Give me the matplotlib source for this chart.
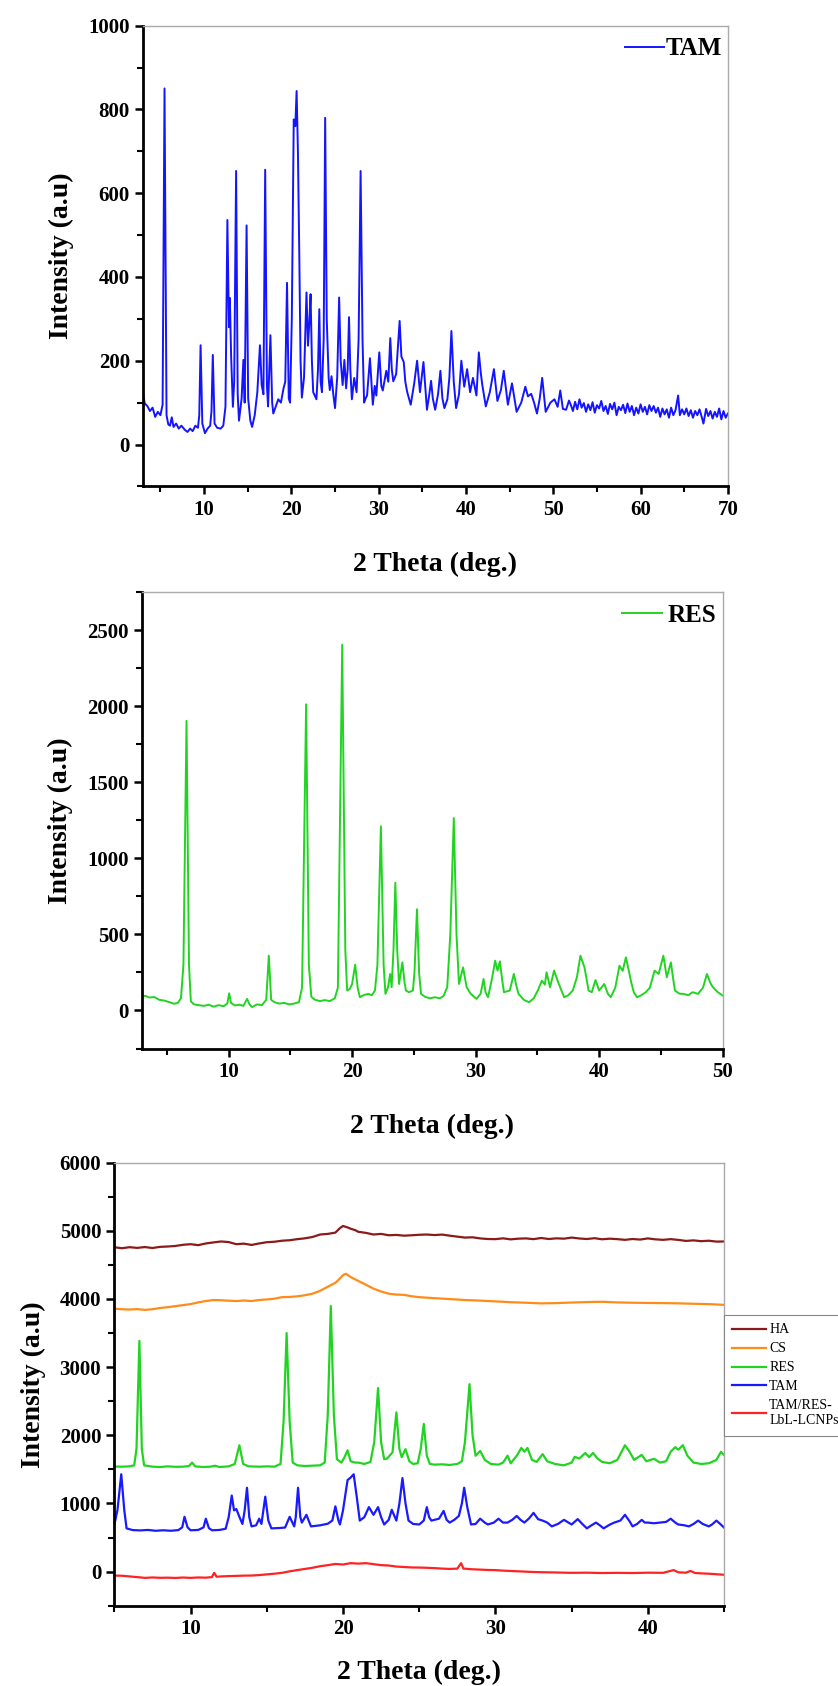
import matplotlib
matplotlib.use("Agg")
import matplotlib.pyplot as plt
from matplotlib.ticker import MultipleLocator

plt.rcParams['font.family'] = ['Liberation Serif', 'DejaVu Serif']
plt.rcParams['font.weight'] = 'bold'

# ---- panel 1: TAM (2 theta, intensity) ----
tam_x = [3.0, 3.2, 3.5, 3.8, 4.1, 4.4, 4.7, 5.0, 5.25, 5.47,
         5.7, 5.9, 6.1, 6.3, 6.5, 6.8, 7.1, 7.4, 7.8, 8.1,
         8.4, 8.7, 9.0, 9.3, 9.45, 9.6, 9.8, 10.1, 10.4, 10.7,
         10.85, 11.0, 11.2, 11.5, 11.9, 12.2, 12.45, 12.67, 12.85, 12.95,
         13.1, 13.3, 13.45, 13.67, 13.85, 14.0, 14.3, 14.5, 14.65, 14.87,
         15.05, 15.3, 15.5, 15.8, 16.1, 16.4, 16.6, 16.8, 17.0, 17.2,
         17.33, 17.6, 17.8, 17.93, 18.2, 18.5, 18.8, 19.1, 19.3, 19.5,
         19.7, 19.85, 20.05, 20.27, 20.45, 20.6, 20.75, 20.9, 21.05, 21.2,
         21.45, 21.73, 21.9, 22.05, 22.2, 22.35, 22.5, 22.87, 23.05, 23.2,
         23.35, 23.5, 23.7, 23.87, 24.05, 24.27, 24.4, 24.6, 24.8, 25.0,
         25.25, 25.47, 25.65, 25.87, 26.07, 26.27, 26.45, 26.6, 26.75, 26.93,
         27.2, 27.47, 27.7, 27.93, 28.15, 28.33, 28.5, 28.67, 29.0, 29.33,
         29.55, 29.73, 30.07, 30.3, 30.47, 30.87, 31.1, 31.33, 31.5, 31.67,
         32.0, 32.4, 32.6, 32.87, 33.05, 33.27, 33.67, 34.07, 34.4, 34.73,
         35.13, 35.53, 35.8, 36.0, 36.2, 36.47, 36.8, 37.07, 37.3, 37.53,
         37.87, 38.1, 38.33, 38.6, 38.87, 39.2, 39.47, 39.8, 40.13, 40.47,
         40.8, 41.2, 41.47, 41.7, 41.87, 42.27, 42.73, 43.2, 43.6, 44.0,
         44.33, 44.8, 45.27, 45.8, 46.33, 46.8, 47.1, 47.47, 47.8, 48.13,
         48.45, 48.73, 49.13, 49.67, 50.13, 50.5, 50.8, 51.1, 51.47, 51.8,
         52.0, 52.25, 52.5, 52.75, 53.0, 53.25, 53.5, 53.75, 54.0, 54.25,
         54.5, 54.75, 55.0, 55.25, 55.5, 55.75, 56.0, 56.25, 56.5, 56.75,
         57.0, 57.25, 57.5, 57.75, 58.0, 58.25, 58.5, 58.75, 59.0, 59.25,
         59.5, 59.75, 60.0, 60.25, 60.5, 60.75, 61.0, 61.25, 61.5, 61.75,
         62.0, 62.25, 62.5, 62.75, 63.0, 63.25, 63.5, 63.75, 64.0, 64.3,
         64.5, 64.75, 65.0, 65.25, 65.5, 65.75, 66.0, 66.25, 66.5, 66.75,
         67.0, 67.2, 67.5, 67.75, 68.0, 68.25, 68.5, 68.75, 69.0, 69.25,
         69.5, 69.75, 70.0]
tam_y = [125, 98, 92, 80, 88, 66, 78, 70, 95, 850,
         70, 48, 45, 65, 42, 50, 38, 45, 35, 30,
         38, 32, 45, 40, 70, 237, 50, 27, 38, 45,
         80, 214, 50, 40, 38, 45, 90, 536, 280, 350,
         210, 90, 150, 653, 120, 57, 110, 202, 100, 523,
         110, 57, 42, 70, 125, 237, 142, 120, 656, 140,
         91, 261, 100, 74, 90, 108, 100, 134, 150, 386,
         110, 100, 300, 776, 760, 844, 700, 465, 200, 112,
         160, 363, 236, 290, 359, 200, 125, 108, 180, 323,
         150, 125, 250, 780, 300, 159, 130, 163, 120, 87,
         160, 351, 200, 142, 202, 134, 180, 304, 180, 108,
         159, 125, 250, 653, 250, 100, 110, 117, 206, 95,
         140, 117, 220, 140, 129, 176, 150, 254, 180, 151,
         168, 295, 210, 197, 150, 125, 95, 146, 200, 125,
         197, 83, 120, 152, 110, 83, 120, 176, 110, 87,
         108, 160, 271, 150, 87, 120, 200, 138, 180, 125,
         159, 117, 220, 170, 142, 91, 125, 180, 104, 130,
         176, 95, 146, 78, 100, 138, 115, 121, 100, 74,
         110, 159, 78, 100, 108, 90, 129, 85, 83, 105,
         95, 80, 102, 84, 108, 88, 99, 78, 96, 82,
         101, 76, 94, 86, 104, 80, 92, 73, 97, 84,
         100, 70, 90, 82, 95, 75, 98, 78, 92, 70,
         88, 74, 96, 78, 90, 72, 94, 80, 92, 76,
         88, 66, 86, 72, 84, 64, 88, 70, 82, 117,
         70, 84, 72, 86, 68, 82, 64, 80, 70, 84,
         66, 50, 85, 68, 80, 62, 78, 66, 86, 60,
         80, 64, 74]

# ---- panel 2: RES ----
res_x = [3.0, 3.3, 3.6, 4.0, 4.4, 4.8, 5.2, 5.6, 5.9, 6.15,
         6.35, 6.6, 6.8, 6.95, 7.2, 7.6, 8.0, 8.4, 8.8, 9.2,
         9.6, 9.9, 10.05, 10.2, 10.5, 10.9, 11.2, 11.5, 11.7, 11.9,
         12.3, 12.7, 13.05, 13.26, 13.45, 13.7, 14.1, 14.5, 14.9, 15.3,
         15.7, 15.95, 16.28, 16.5, 16.7, 17.0, 17.4, 17.8, 18.2, 18.6,
         18.85, 19.2, 19.45, 19.6, 19.8, 20.0, 20.25, 20.45, 20.63, 20.9,
         21.3, 21.6, 21.85, 22.05, 22.33, 22.55, 22.7, 22.9, 23.08, 23.2,
         23.35, 23.5, 23.65, 23.8, 24.07, 24.25, 24.36, 24.6, 24.92, 25.05,
         25.25, 25.42, 25.58, 25.9, 26.3, 26.7, 27.1, 27.4, 27.7, 27.95,
         28.23, 28.45, 28.65, 28.98, 29.27, 29.6, 30.07, 30.4, 30.64, 30.8,
         31.0, 31.3, 31.58, 31.77, 31.96, 32.15, 32.29, 32.76, 33.09, 33.3,
         33.47, 33.9, 34.32, 34.7, 35.03, 35.36, 35.6, 35.74, 36.02, 36.35,
         36.68, 36.9, 37.16, 37.5, 37.86, 38.2, 38.48, 38.81, 39.14, 39.4,
         39.7, 39.99, 40.41, 40.7, 40.93, 41.3, 41.64, 41.9, 42.16, 42.4,
         42.59, 42.8, 43.06, 43.4, 43.77, 44.1, 44.48, 44.81, 45.19, 45.47,
         45.8, 46.0, 46.13, 46.5, 46.84, 47.2, 47.55, 48.0, 48.4, 48.72,
         49.0, 49.2, 49.6, 50.0]
res_y = [98, 95, 85, 88, 70, 65, 55, 44, 50, 80,
         300, 1903, 300, 60, 40, 35, 30, 38, 25, 35,
         28, 45, 113, 50, 33, 38, 30, 76, 40, 22,
         40, 35, 70, 360, 70, 55, 45, 50, 40, 45,
         55, 150, 2012, 300, 90, 70, 62, 68, 62, 80,
         150, 2404, 400, 131, 140, 174, 301, 150, 87, 100,
         109, 100, 131, 300, 1210, 300, 109, 150, 240, 153,
         400, 839, 400, 174, 316, 180, 131, 120, 131, 250,
         665, 250, 109, 90, 80, 87, 80, 95, 153, 500,
         1264, 500, 174, 283, 153, 110, 76, 110, 207, 120,
         87, 200, 327, 262, 323, 200, 120, 131, 240, 160,
         109, 70, 54, 80, 131, 196, 170, 251, 153, 262,
         185, 140, 87, 100, 131, 220, 360, 283, 131, 120,
         200, 131, 174, 110, 87, 150, 294, 260, 349, 260,
         185, 120, 87, 100, 120, 150, 262, 240, 360, 218,
         316, 200, 131, 110, 109, 100, 120, 109, 150, 240,
         180, 153, 120, 98]

# ---- panel 3: stacked patterns ----
ha_x = [5, 5.5, 6, 6.5, 7, 7.5, 8, 8.5, 9, 9.5,
        10, 10.5, 11, 11.5, 12, 12.5, 13, 13.5, 14, 14.5,
        15, 15.5, 16, 16.5, 17, 17.5, 18, 18.5, 19, 19.5,
        19.8, 20, 20.3, 20.5, 20.8, 21, 21.5, 22, 22.5, 23,
        23.5, 24, 24.5, 25, 25.5, 26, 26.5, 27, 27.5, 28,
        28.5, 29, 29.5, 30, 30.5, 31, 31.5, 32, 32.5, 33,
        33.5, 34, 34.5, 35, 35.5, 36, 36.5, 37, 37.5, 38,
        38.5, 39, 39.5, 40, 40.5, 41, 41.5, 42, 42.5, 43,
        43.5, 44, 44.5, 45]
ha_y = [4759, 4745, 4760, 4750, 4762, 4748, 4765, 4770, 4778, 4795,
        4804, 4790, 4815, 4830, 4844, 4835, 4804, 4812, 4793, 4815,
        4833, 4840, 4855, 4862, 4878, 4890, 4910, 4946, 4955, 4974,
        5040, 5071, 5050, 5031, 5010, 4986, 4970, 4946, 4955, 4935,
        4940, 4929, 4935, 4942, 4946, 4938, 4945, 4929, 4915, 4901,
        4905, 4889, 4880, 4878, 4890, 4875, 4885, 4889, 4878, 4895,
        4880, 4890, 4885, 4901, 4888, 4880, 4892, 4876, 4885, 4878,
        4868, 4880, 4872, 4889, 4875, 4868, 4878, 4867, 4852, 4860,
        4848, 4855, 4842, 4844]

cs_x = [5, 5.5, 6, 6.5, 7, 7.5, 8, 8.5, 9, 9.5,
        10, 10.5, 11, 11.5, 12, 12.5, 13, 13.5, 14, 14.5,
        15, 15.5, 16, 16.5, 17, 17.5, 18, 18.5, 19, 19.5,
        19.8, 20, 20.2, 20.5, 21, 21.5, 22, 22.5, 23, 23.5,
        24, 24.5, 25, 26, 27, 28, 29, 30, 31, 32,
        33, 34, 35, 36, 37, 38, 39, 40, 41, 42,
        43, 44, 45]
cs_y = [3857, 3850, 3845, 3852, 3840, 3850, 3868, 3880, 3895, 3910,
        3925, 3950, 3970, 3985, 3982, 3975, 3970, 3978, 3970, 3985,
        3993, 4005, 4027, 4030, 4039, 4055, 4078, 4120, 4180, 4237,
        4300, 4350, 4370, 4322, 4265, 4210, 4152, 4110, 4078, 4065,
        4061, 4040, 4027, 4012, 3999, 3985, 3976, 3965, 3953, 3945,
        3936, 3940, 3948, 3955, 3959, 3950, 3945, 3942, 3940, 3936,
        3930, 3925, 3914]

res3_x = [5, 5.5, 6, 6.3, 6.45, 6.64, 6.8, 6.95, 7.5, 8,
          8.5, 9, 9.5, 9.9, 10.1, 10.3, 10.8, 11.3, 11.6, 11.9,
          12.5, 12.9, 13.2, 13.45, 13.8, 14.5, 15, 15.5, 15.9, 16.1,
          16.3, 16.5, 16.7, 17, 17.5, 18, 18.5, 18.8, 19.0, 19.2,
          19.4, 19.6, 19.9, 20.1, 20.3, 20.5, 20.8, 21, 21.4, 21.8,
          22.05, 22.3, 22.5, 22.7, 22.9, 23.1, 23.25, 23.5, 23.7, 23.85,
          24.1, 24.35, 24.6, 24.9, 25.1, 25.3, 25.5, 25.7, 26, 26.5,
          27, 27.5, 27.8, 28.0, 28.3, 28.5, 28.7, 29, 29.3, 29.7,
          30.2, 30.5, 30.8, 31.0, 31.4, 31.7, 31.9, 32.1, 32.4, 32.7,
          33.1, 33.4, 33.9, 34.5, 35.0, 35.2, 35.5, 35.9, 36.15, 36.4,
          36.7, 37.0, 37.5, 38.0, 38.5, 38.8, 39.1, 39.6, 39.9, 40.4,
          40.8, 41.2, 41.5, 41.8, 42.0, 42.3, 42.6, 43, 43.5, 44,
          44.5, 44.8, 45]
res3_y = [1543, 1540, 1545, 1560, 1800, 3386, 1800, 1560, 1540, 1535,
          1545, 1538, 1540, 1550, 1600, 1545, 1535, 1540, 1554, 1535,
          1545, 1580, 1855, 1580, 1545, 1540, 1545, 1540, 1580, 2200,
          3500, 2200, 1600, 1560, 1550, 1555, 1560, 1600, 2300, 3897,
          2300, 1650, 1600, 1680, 1781, 1620, 1600, 1600, 1580, 1610,
          1900, 2694, 1900, 1650, 1660, 1713, 1750, 2337, 1800, 1680,
          1798, 1620, 1580, 1590, 1800, 2167, 1700, 1580, 1570, 1575,
          1565, 1580, 1620, 1900, 2751, 2000, 1700, 1770, 1640, 1580,
          1570, 1600, 1702, 1590, 1700, 1815, 1760, 1815, 1640, 1610,
          1724, 1620, 1580, 1560, 1600, 1685, 1660, 1741, 1680, 1741,
          1660, 1610, 1590, 1640, 1855, 1760, 1640, 1713, 1620, 1656,
          1600, 1620, 1760, 1826, 1790, 1855, 1700, 1600, 1580, 1590,
          1640, 1758, 1713]

tam3_x = [5, 5.2, 5.45, 5.65, 5.8, 6.2, 6.7, 7.2, 7.7, 8.2,
          8.7, 9.2, 9.45, 9.6, 9.8, 10, 10.5, 10.85, 11, 11.2,
          11.4, 11.9, 12.3, 12.5, 12.7, 12.85, 13.0, 13.2, 13.4, 13.55,
          13.7, 13.85, 14, 14.3, 14.5, 14.65, 14.9, 15.1, 15.3, 15.8,
          16.2, 16.5, 16.8, 16.9, 17.05, 17.2, 17.3, 17.6, 17.9, 18.5,
          19, 19.3, 19.5, 19.7, 19.8, 20.0, 20.3, 20.5, 20.7, 20.9,
          21.1, 21.4, 21.7, 22, 22.3, 22.5, 22.7, 23.0, 23.2, 23.5,
          23.7, 23.9, 24.1, 24.3, 24.6, 25, 25.3, 25.5, 25.65, 25.8,
          26.3, 26.6, 26.8, 27, 27.3, 27.6, 27.8, 27.95, 28.15, 28.4,
          28.7, 29, 29.3, 29.5, 29.9, 30.2, 30.5, 30.8, 31.1, 31.4,
          31.65, 31.9, 32.2, 32.5, 32.8, 33.1, 33.4, 33.7, 34.1, 34.5,
          34.8, 35.0, 35.4, 35.7, 36.0, 36.3, 36.6, 36.85, 37.1, 37.5,
          37.8, 38.2, 38.5, 38.8, 39.0, 39.3, 39.6, 39.8, 40, 40.4,
          40.8, 41.2, 41.5, 41.8, 42, 42.4, 42.7, 43.0, 43.3, 43.6,
          44, 44.2, 44.5, 44.75, 45]
tam3_y = [692, 900, 1429, 900, 635, 610, 605, 612, 600, 607,
          600, 610, 650, 805, 650, 607, 612, 650, 777, 640,
          607, 612, 630, 800, 1117, 900, 919, 805, 700, 900,
          1231, 800, 664, 680, 777, 700, 1100, 750, 635, 640,
          647, 805, 664, 800, 1231, 800, 720, 834, 664, 680,
          703, 750, 958, 750, 692, 900, 1344, 1380, 1429, 1100,
          749, 800, 947, 834, 947, 800, 692, 760, 908, 749,
          1000, 1373, 1000, 749, 700, 692, 750, 947, 800, 749,
          777, 891, 760, 720, 760, 817, 1000, 1231, 950, 692,
          700, 777, 720, 692, 720, 777, 720, 720, 760, 817,
          760, 720, 780, 862, 770, 749, 720, 664, 700, 760,
          720, 692, 771, 700, 635, 680, 720, 680, 635, 690,
          720, 750, 834, 740, 664, 700, 760, 720, 720, 710,
          720, 730, 777, 720, 692, 680, 664, 700, 749, 700,
          664, 690, 749, 700, 647]

lcnp_x = [5, 5.5, 6, 6.5, 7, 7.5, 8, 8.5, 9, 9.5,
          10, 10.5, 11, 11.4, 11.55, 11.7, 12, 12.5, 13, 13.5,
          14, 14.5, 15, 15.5, 16, 16.5, 17, 17.5, 18, 18.5,
          19, 19.5, 20, 20.5, 21, 21.5, 22, 22.5, 23, 23.5,
          24, 24.5, 25, 25.5, 26, 26.5, 27, 27.5, 27.75, 27.9,
          28.5, 29, 29.5, 30, 30.5, 31, 31.5, 32, 32.5, 33,
          33.5, 34, 34.5, 35, 36, 37, 38, 39, 40, 41,
          41.7, 42, 42.5, 42.8, 43.1, 43.5, 44, 44.5, 45]
lcnp_y = [-57, -60, -70, -80, -91, -85, -90, -88, -92, -86,
          -91, -85, -88, -80, -17, -74, -70, -65, -62, -58,
          -57, -50, -40, -30, -17, 5, 23, 40, 57, 80,
          95, 113, 105, 125, 118, 125, 110, 96, 90, 75,
          68, 62, 60, 57, 52, 45, 40, 45, 125, 45,
          35, 30, 25, 23, 15, 10, 5, 0, -5, -8,
          -10, -12, -15, -17, -15, -20, -17, -20, -15, -17,
          23, -10, -15, 11, -20, -25, -30, -38, -45]

stack_labels = ['HA', 'CS', 'RES', 'TAM', 'TAM/RES-\nLbL-LCNPs']
stack_colors = ['#8b1a1a', '#ff8c1a', '#22d422', '#1a1aff', '#ff2222']

fig = plt.figure(figsize=(8.38, 16.86), dpi=100)
ax1 = fig.add_axes([0.1706, 0.7115, 0.698, 0.2733])
ax2 = fig.add_axes([0.1695, 0.3781, 0.693, 0.2708])
ax3 = fig.add_axes([0.1365, 0.0476, 0.7275, 0.2628])


def style(ax, xmaj, ymaj, ymin, xpad):
    ax.xaxis.set_major_locator(MultipleLocator(xmaj))
    ax.xaxis.set_minor_locator(MultipleLocator(5))
    ax.yaxis.set_major_locator(MultipleLocator(ymaj))
    ax.yaxis.set_minor_locator(MultipleLocator(ymin))
    for side in ['left', 'bottom']:
        ax.spines[side].set_linewidth(2)
        ax.spines[side].set_color('black')
    for side in ['top', 'right']:
        ax.spines[side].set_linewidth(1)
        ax.spines[side].set_color('#aaaaaa')
    ax.tick_params(which='major', direction='out', length=6, width=1.8,
                   labelsize=15, top=False, right=False)
    ax.tick_params(which='minor', direction='out', length=4, width=1.5,
                   top=False, right=False)
    for lab in ax.get_xticklabels() + ax.get_yticklabels():
        lab.set_fontweight('bold')
    ax.set_xlabel('2 Theta (deg.)', fontsize=20, fontweight='bold', labelpad=xpad)
    ax.set_ylabel('Intensity (a.u)', fontsize=20, fontweight='bold', labelpad=10)


# panel 1
ax1.plot(tam_x, tam_y, color='#1414ff', lw=1.4, label='TAM')
ax1.set_xlim(3, 70)
ax1.set_ylim(-100, 1000)
style(ax1, 10, 200, 100, 23)
ax1.legend(loc='upper right', bbox_to_anchor=(1.0, 0.988), frameon=False,
           handlelength=1.55, handletextpad=0.05, borderaxespad=0.15,
           borderpad=0.1, prop={'weight': 'bold', 'size': 18})

# panel 2
ax2.plot(res_x, res_y, color='#22d422', lw=1.4, label='RES')
ax2.set_xlim(3, 50)
ax2.set_ylim(-250, 2750)
style(ax2, 10, 500, 250, 23)
ax2.legend(loc='upper right', bbox_to_anchor=(1.0, 0.988), frameon=False,
           handlelength=1.6, handletextpad=0.25, borderaxespad=0.15,
           borderpad=0.1, prop={'weight': 'bold', 'size': 18})

# panel 3
series3 = [(ha_x, ha_y), (cs_x, cs_y), (res3_x, res3_y), (tam3_x, tam3_y),
           (lcnp_x, lcnp_y)]
for (sx, sy), lab, col in zip(series3, stack_labels, stack_colors):
    ax3.plot(sx, sy, color=col, lw=1.6, label=lab)
ax3.set_xlim(5, 45)
ax3.set_ylim(-500, 6000)
style(ax3, 10, 1000, 500, 15)
leg = ax3.legend(loc='upper left', bbox_to_anchor=(1.0, 0.656),
                 borderaxespad=0, fancybox=False, framealpha=1,
                 edgecolor='#888888', handlelength=2.45, handletextpad=0.2,
                 labelspacing=0.43, borderpad=0.6,
                 prop={'family': 'Liberation Serif', 'weight': 'normal', 'size': 10})
leg.get_frame().set_linewidth(0.8)

fig.savefig('out.png', dpi=100)
